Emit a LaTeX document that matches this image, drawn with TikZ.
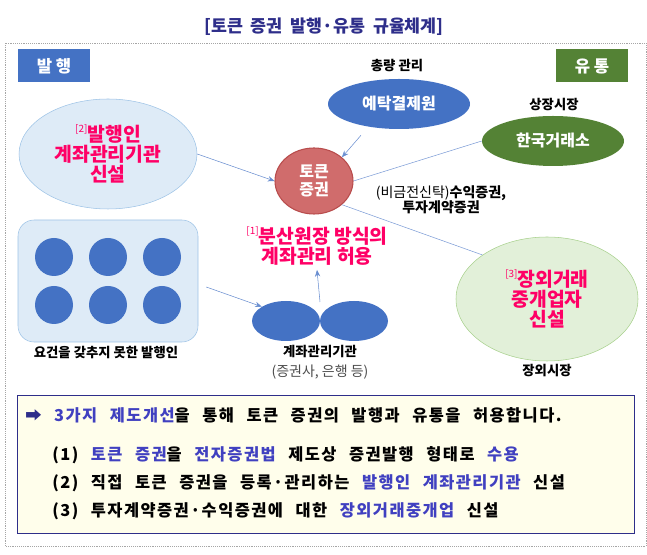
\documentclass[tikz,border=0pt]{standalone}
\usepackage{fontspec}
\setmainfont{Noto Sans CJK KR}
\newfontfamily\wide{Noto Sans CJK KR}[WordSpace=2.4,LetterSpace=9]
\usetikzlibrary{arrows.meta,shapes.geometric}
\definecolor{tblue}{HTML}{4472C4}
\definecolor{tgreen}{HTML}{548235}
\definecolor{lblue}{HTML}{DEEBF7}
\definecolor{lbluel}{HTML}{9DC3E6}
\definecolor{lgreen}{HTML}{E2F0D9}
\definecolor{lgreenl}{HTML}{A9D18E}
\definecolor{pink}{HTML}{FF0066}
\definecolor{navy}{HTML}{2E2E8A}
\definecolor{tred}{HTML}{D06C6C}
\definecolor{hl}{HTML}{4040C0}
\newcommand{\sq}[1]{\raisebox{0.45em}{\fontsize{7.5}{8}\selectfont\mdseries[#1]}}
\begin{document}
\begin{tikzpicture}[x=0.75pt,y=-0.75pt,
  lbl/.style={font=\fontsize{10}{12}\selectfont\bfseries},
  ell/.style={ellipse,inner sep=0pt},
  arr/.style={draw=tblue!80,-{Stealth[length=5pt,width=4pt]}},
  ln/.style={draw=tblue!70},
  pk/.style={text=pink,font=\fontsize{14.5}{17}\selectfont\bfseries,align=center},
  bt/.style={anchor=west,font=\wide\fontsize{12.3}{14}\selectfont\bfseries,inner sep=0pt}]
\useasboundingbox (0,0) rectangle (647,555);
\node[text=navy,font=\fontsize{13}{15}\selectfont\bfseries] (title) at (324,27) {[토큰\ \ 증권\ \ 발행·유통\ \ 규율체계]};
\draw[gray!70,densely dotted] (5,43) rectangle (646,546);
\node[fill=tblue,text=white,minimum width=72*0.75pt,minimum height=33*0.75pt,font=\fontsize{12.5}{14}\selectfont\bfseries] (bh) at (54,66) {발 행};
\node[fill=tgreen,text=white,minimum width=72*0.75pt,minimum height=33*0.75pt,font=\fontsize{12.5}{14}\selectfont\bfseries] (yt) at (592,66) {유 통};
\node[lbl] (cr) at (397,66) {총량 관리};
\node[ell,fill=tblue,minimum width=142*0.75pt,minimum height=50*0.75pt,text=white,font=\fontsize{12}{14}\selectfont\bfseries] (ksd) at (399,104) {예탁결제원};
\node[lbl] (ss) at (554,105) {상장시장};
\node[ell,fill=tgreen,minimum width=142*0.75pt,minimum height=50*0.75pt,text=white,font=\fontsize{12}{14}\selectfont\bfseries] (krx) at (553,141) {한국거래소};
\node[ell,fill=lblue,draw=lbluel,minimum width=178*0.75pt,minimum height=110*0.75pt,pk] (iss) at (108,154) {\sq{2}발행인\\[-2pt]계좌관리기관\\[-2pt]신설};
\node[ell,fill=tred,draw=red!60!black!70,thick,minimum width=78*0.75pt,minimum height=66*0.75pt,text=white,align=center,font=\fontsize{12}{13.5}\selectfont\bfseries] (tok) at (314,181) {토큰\\증권};
\node[font=\fontsize{10.5}{12.5}\selectfont,align=center] (sec) at (441,200) {(비금전신탁)\textbf{수익증권,}\\[-1pt]\textbf{투자계약증권}};
\node[pk] (dlt) at (317,246) {\sq{1}분산원장 방식의\\[-2pt]계좌관리 허용};
\node[draw=lbluel,fill=lblue,rounded corners=12pt,minimum width=180*0.75pt,minimum height=122*0.75pt] (grp) at (108,281) {};
\foreach \x/\n in {54/a,108/b,162/c}{
  \node[ell,fill=tblue,minimum width=38*0.75pt,minimum height=38*0.75pt] (d1\n) at (\x,257) {};
  \node[ell,fill=tblue,minimum width=38*0.75pt,minimum height=38*0.75pt] (d2\n) at (\x,305) {};}
\node[lbl] (yg) at (106,353) {요건을 갖추지 못한 발행인};
\node[ell,fill=tblue,minimum width=68*0.75pt,minimum height=40*0.75pt] (e1) at (286,321) {};
\node[ell,fill=tblue,minimum width=68*0.75pt,minimum height=40*0.75pt] (e2) at (354,321) {};
\coordinate (emid) at (320,302);
\node[lbl] (ga) at (320,352) {계좌관리기관};
\node[font=\fontsize{10.5}{12}\selectfont,text=black!70] (gb) at (320,372) {(증권사, 은행 등)};
\node[ell,fill=lgreen,draw=lgreenl,minimum width=182*0.75pt,minimum height=124*0.75pt,pk] (otc) at (547,299) {\sq{3}장외거래\\[-2pt]중개업자\\[-2pt]신설};
\node[lbl] (ow) at (547,371) {장외시장};
\draw[arr] (iss.east) -- (tok.west);
\draw[arr] (ksd.south) ++(-38,6) -- (tok.north east);
\draw[ln] (tok.east) -- (krx.west);
\draw[ln] (tok.south east) -- (otc.north west);
\draw[arr] (grp.east) ++(8,6) -- (e1.north west);
\draw[arr] (emid) -- (dlt.south);
\node[draw=navy,fill=yellow!8,minimum width=617*0.75pt,minimum height=138*0.75pt] (box) at (325.5,464) {};
\node[bt] (l0) at (25,415) {\textcolor{navy}{➡}\ \textcolor{hl}{3가지 제도개선}을 통해 토큰 증권의 발행과 유통을 허용합니다.};
\node[bt] (l1) at (52,455) {(1) \textcolor{hl}{토큰 증권}을 \textcolor{hl}{전자증권법} 제도상 증권발행 형태로 \textcolor{hl}{수용}};
\node[bt] (l2) at (52,483) {(2) 직접 토큰 증권을 등록·관리하는 \textcolor{hl}{발행인 계좌관리기관} 신설};
\node[bt] (l3) at (52,511) {(3) 투자계약증권·수익증권에 대한 \textcolor{hl}{장외거래중개업} 신설};
\end{tikzpicture}
\end{document}
